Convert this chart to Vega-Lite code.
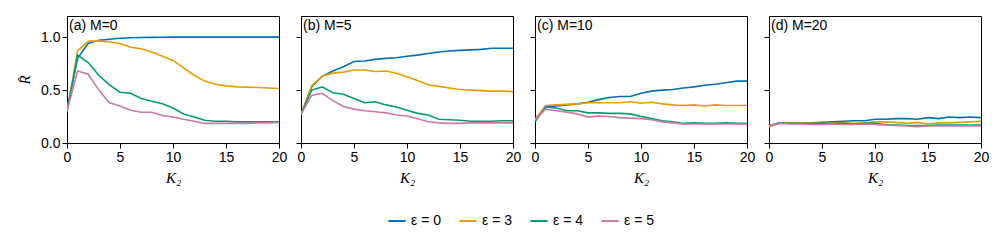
{
  "$schema": "https://vega.github.io/schema/vega-lite/v6.json",
  "padding": {"left": 17, "top": 15, "right": 15, "bottom": 5},
  "background": "white",
  "spacing": 22,
  "bounds": "flush",
  "datasets": {
    "curves": [
      {"panel":"a","K2":0,"ε = 0":0.31,"ε = 3":0.3,"ε = 4":0.3,"ε = 5":0.3},
      {"panel":"a","K2":1,"ε = 0":0.8,"ε = 3":0.87,"ε = 4":0.83,"ε = 5":0.68},
      {"panel":"a","K2":2,"ε = 0":0.94,"ε = 3":0.96,"ε = 4":0.76,"ε = 5":0.65},
      {"panel":"a","K2":3,"ε = 0":0.97,"ε = 3":0.965,"ε = 4":0.64,"ε = 5":0.5},
      {"panel":"a","K2":4,"ε = 0":0.98,"ε = 3":0.955,"ε = 4":0.55,"ε = 5":0.38},
      {"panel":"a","K2":5,"ε = 0":0.99,"ε = 3":0.94,"ε = 4":0.48,"ε = 5":0.35},
      {"panel":"a","K2":6,"ε = 0":0.995,"ε = 3":0.905,"ε = 4":0.47,"ε = 5":0.31},
      {"panel":"a","K2":7,"ε = 0":0.997,"ε = 3":0.89,"ε = 4":0.42,"ε = 5":0.29},
      {"panel":"a","K2":8,"ε = 0":0.998,"ε = 3":0.86,"ε = 4":0.395,"ε = 5":0.29},
      {"panel":"a","K2":9,"ε = 0":0.999,"ε = 3":0.82,"ε = 4":0.37,"ε = 5":0.26},
      {"panel":"a","K2":10,"ε = 0":1,"ε = 3":0.78,"ε = 4":0.33,"ε = 5":0.245},
      {"panel":"a","K2":11,"ε = 0":1,"ε = 3":0.71,"ε = 4":0.275,"ε = 5":0.225},
      {"panel":"a","K2":12,"ε = 0":1,"ε = 3":0.64,"ε = 4":0.245,"ε = 5":0.205},
      {"panel":"a","K2":13,"ε = 0":1,"ε = 3":0.585,"ε = 4":0.215,"ε = 5":0.185},
      {"panel":"a","K2":14,"ε = 0":1,"ε = 3":0.555,"ε = 4":0.205,"ε = 5":0.185},
      {"panel":"a","K2":15,"ε = 0":1,"ε = 3":0.54,"ε = 4":0.205,"ε = 5":0.185},
      {"panel":"a","K2":16,"ε = 0":1,"ε = 3":0.53,"ε = 4":0.2,"ε = 5":0.185},
      {"panel":"a","K2":17,"ε = 0":1,"ε = 3":0.528,"ε = 4":0.2,"ε = 5":0.185},
      {"panel":"a","K2":18,"ε = 0":1,"ε = 3":0.525,"ε = 4":0.2,"ε = 5":0.19},
      {"panel":"a","K2":19,"ε = 0":1,"ε = 3":0.52,"ε = 4":0.2,"ε = 5":0.19},
      {"panel":"a","K2":20,"ε = 0":1,"ε = 3":0.515,"ε = 4":0.2,"ε = 5":0.195},

      {"panel":"b","K2":0,"ε = 0":0.27,"ε = 3":0.27,"ε = 4":0.27,"ε = 5":0.27},
      {"panel":"b","K2":1,"ε = 0":0.53,"ε = 3":0.54,"ε = 4":0.5,"ε = 5":0.45},
      {"panel":"b","K2":2,"ε = 0":0.63,"ε = 3":0.63,"ε = 4":0.53,"ε = 5":0.47},
      {"panel":"b","K2":3,"ε = 0":0.68,"ε = 3":0.66,"ε = 4":0.475,"ε = 5":0.4},
      {"panel":"b","K2":4,"ε = 0":0.72,"ε = 3":0.67,"ε = 4":0.46,"ε = 5":0.345},
      {"panel":"b","K2":5,"ε = 0":0.77,"ε = 3":0.69,"ε = 4":0.42,"ε = 5":0.32},
      {"panel":"b","K2":6,"ε = 0":0.775,"ε = 3":0.69,"ε = 4":0.38,"ε = 5":0.305},
      {"panel":"b","K2":7,"ε = 0":0.79,"ε = 3":0.675,"ε = 4":0.39,"ε = 5":0.295},
      {"panel":"b","K2":8,"ε = 0":0.8,"ε = 3":0.68,"ε = 4":0.36,"ε = 5":0.285},
      {"panel":"b","K2":9,"ε = 0":0.805,"ε = 3":0.66,"ε = 4":0.34,"ε = 5":0.265},
      {"panel":"b","K2":10,"ε = 0":0.82,"ε = 3":0.625,"ε = 4":0.31,"ε = 5":0.255},
      {"panel":"b","K2":11,"ε = 0":0.83,"ε = 3":0.59,"ε = 4":0.28,"ε = 5":0.23},
      {"panel":"b","K2":12,"ε = 0":0.845,"ε = 3":0.55,"ε = 4":0.265,"ε = 5":0.2},
      {"panel":"b","K2":13,"ε = 0":0.86,"ε = 3":0.535,"ε = 4":0.225,"ε = 5":0.19},
      {"panel":"b","K2":14,"ε = 0":0.87,"ε = 3":0.52,"ε = 4":0.22,"ε = 5":0.185},
      {"panel":"b","K2":15,"ε = 0":0.875,"ε = 3":0.505,"ε = 4":0.215,"ε = 5":0.185},
      {"panel":"b","K2":16,"ε = 0":0.88,"ε = 3":0.5,"ε = 4":0.205,"ε = 5":0.19},
      {"panel":"b","K2":17,"ε = 0":0.885,"ε = 3":0.495,"ε = 4":0.205,"ε = 5":0.19},
      {"panel":"b","K2":18,"ε = 0":0.895,"ε = 3":0.49,"ε = 4":0.205,"ε = 5":0.19},
      {"panel":"b","K2":19,"ε = 0":0.895,"ε = 3":0.49,"ε = 4":0.21,"ε = 5":0.19},
      {"panel":"b","K2":20,"ε = 0":0.895,"ε = 3":0.485,"ε = 4":0.21,"ε = 5":0.19},

      {"panel":"c","K2":0,"ε = 0":0.22,"ε = 3":0.22,"ε = 4":0.2,"ε = 5":0.22},
      {"panel":"c","K2":1,"ε = 0":0.34,"ε = 3":0.355,"ε = 4":0.34,"ε = 5":0.32},
      {"panel":"c","K2":2,"ε = 0":0.35,"ε = 3":0.36,"ε = 4":0.33,"ε = 5":0.305},
      {"panel":"c","K2":3,"ε = 0":0.36,"ε = 3":0.365,"ε = 4":0.305,"ε = 5":0.29},
      {"panel":"c","K2":4,"ε = 0":0.37,"ε = 3":0.37,"ε = 4":0.305,"ε = 5":0.275},
      {"panel":"c","K2":5,"ε = 0":0.385,"ε = 3":0.38,"ε = 4":0.285,"ε = 5":0.245},
      {"panel":"c","K2":6,"ε = 0":0.41,"ε = 3":0.38,"ε = 4":0.285,"ε = 5":0.255},
      {"panel":"c","K2":7,"ε = 0":0.43,"ε = 3":0.38,"ε = 4":0.28,"ε = 5":0.25},
      {"panel":"c","K2":8,"ε = 0":0.44,"ε = 3":0.38,"ε = 4":0.28,"ε = 5":0.24},
      {"panel":"c","K2":9,"ε = 0":0.44,"ε = 3":0.39,"ε = 4":0.275,"ε = 5":0.235},
      {"panel":"c","K2":10,"ε = 0":0.47,"ε = 3":0.375,"ε = 4":0.25,"ε = 5":0.23},
      {"panel":"c","K2":11,"ε = 0":0.49,"ε = 3":0.385,"ε = 4":0.23,"ε = 5":0.22},
      {"panel":"c","K2":12,"ε = 0":0.5,"ε = 3":0.37,"ε = 4":0.21,"ε = 5":0.2},
      {"panel":"c","K2":13,"ε = 0":0.505,"ε = 3":0.36,"ε = 4":0.2,"ε = 5":0.19},
      {"panel":"c","K2":14,"ε = 0":0.52,"ε = 3":0.355,"ε = 4":0.185,"ε = 5":0.18},
      {"panel":"c","K2":15,"ε = 0":0.53,"ε = 3":0.36,"ε = 4":0.19,"ε = 5":0.18},
      {"panel":"c","K2":16,"ε = 0":0.545,"ε = 3":0.35,"ε = 4":0.185,"ε = 5":0.18},
      {"panel":"c","K2":17,"ε = 0":0.555,"ε = 3":0.36,"ε = 4":0.185,"ε = 5":0.18},
      {"panel":"c","K2":18,"ε = 0":0.57,"ε = 3":0.355,"ε = 4":0.19,"ε = 5":0.18},
      {"panel":"c","K2":19,"ε = 0":0.585,"ε = 3":0.355,"ε = 4":0.185,"ε = 5":0.18},
      {"panel":"c","K2":20,"ε = 0":0.585,"ε = 3":0.355,"ε = 4":0.185,"ε = 5":0.18},

      {"panel":"d","K2":0,"ε = 0":0.16,"ε = 3":0.15,"ε = 4":0.165,"ε = 5":0.165},
      {"panel":"d","K2":1,"ε = 0":0.19,"ε = 3":0.19,"ε = 4":0.19,"ε = 5":0.185},
      {"panel":"d","K2":2,"ε = 0":0.19,"ε = 3":0.19,"ε = 4":0.185,"ε = 5":0.18},
      {"panel":"d","K2":3,"ε = 0":0.19,"ε = 3":0.19,"ε = 4":0.185,"ε = 5":0.18},
      {"panel":"d","K2":4,"ε = 0":0.19,"ε = 3":0.19,"ε = 4":0.185,"ε = 5":0.175},
      {"panel":"d","K2":5,"ε = 0":0.195,"ε = 3":0.185,"ε = 4":0.185,"ε = 5":0.175},
      {"panel":"d","K2":6,"ε = 0":0.2,"ε = 3":0.19,"ε = 4":0.185,"ε = 5":0.18},
      {"panel":"d","K2":7,"ε = 0":0.205,"ε = 3":0.19,"ε = 4":0.185,"ε = 5":0.175},
      {"panel":"d","K2":8,"ε = 0":0.21,"ε = 3":0.185,"ε = 4":0.18,"ε = 5":0.175},
      {"panel":"d","K2":9,"ε = 0":0.21,"ε = 3":0.19,"ε = 4":0.185,"ε = 5":0.18},
      {"panel":"d","K2":10,"ε = 0":0.225,"ε = 3":0.2,"ε = 4":0.185,"ε = 5":0.175},
      {"panel":"d","K2":11,"ε = 0":0.225,"ε = 3":0.2,"ε = 4":0.175,"ε = 5":0.17},
      {"panel":"d","K2":12,"ε = 0":0.23,"ε = 3":0.195,"ε = 4":0.17,"ε = 5":0.165},
      {"panel":"d","K2":13,"ε = 0":0.23,"ε = 3":0.185,"ε = 4":0.165,"ε = 5":0.16},
      {"panel":"d","K2":14,"ε = 0":0.225,"ε = 3":0.195,"ε = 4":0.165,"ε = 5":0.155},
      {"panel":"d","K2":15,"ε = 0":0.24,"ε = 3":0.18,"ε = 4":0.165,"ε = 5":0.16},
      {"panel":"d","K2":16,"ε = 0":0.23,"ε = 3":0.19,"ε = 4":0.17,"ε = 5":0.16},
      {"panel":"d","K2":17,"ε = 0":0.245,"ε = 3":0.19,"ε = 4":0.17,"ε = 5":0.16},
      {"panel":"d","K2":18,"ε = 0":0.24,"ε = 3":0.195,"ε = 4":0.17,"ε = 5":0.16},
      {"panel":"d","K2":19,"ε = 0":0.245,"ε = 3":0.2,"ε = 4":0.17,"ε = 5":0.16},
      {"panel":"d","K2":20,"ε = 0":0.24,"ε = 3":0.205,"ε = 4":0.17,"ε = 5":0.16}
    ]
  },
  "config": {
    "font": "Liberation Sans",
    "view": {"stroke": "black", "strokeWidth": 1},
    "axis": {
      "grid": false,
      "domainColor": "black",
      "tickColor": "black",
      "tickSize": 5,
      "labelFontSize": 14,
      "labelColor": "black",
      "labelFont": "Liberation Sans",
      "titleColor": "black",
      "titleFont": "Liberation Serif",
      "titleFontStyle": "italic",
      "titleFontWeight": "normal",
      "titleFontSize": 15
    },
    "axisX": {"titlePadding": 6},
    "legend": {
      "labelFontSize": 14,
      "labelColor": "black",
      "labelFont": "Liberation Sans"
    }
  },
  "hconcat": [
    {
      "width": 212, "height": 127,
      "layer": [
        {
          "data": {"name": "curves"},
          "transform": [{"filter": "datum.panel === 'a'"}, {"fold": ["ε = 0", "ε = 3", "ε = 4", "ε = 5"], "as": ["eps", "R"]}],
          "mark": {"type": "line", "strokeWidth": 1.6, "clip": true},
          "encoding": {
            "x": {"field": "K2", "type": "quantitative", "scale": {"domain": [0, 20], "nice": false}, "axis": {"values": [0, 5, 10, 15, 20], "title": "K₂", "labelFlush": false}},
            "y": {"field": "R", "type": "quantitative", "scale": {"domain": [0, 1.2], "nice": false}, "axis": {"values": [0, 0.5, 1], "format": ".1f", "title": "R̂", "titlePadding": 8}},
            "color": {"field": "eps", "type": "nominal", "scale": {"domain": ["ε = 0", "ε = 3", "ε = 4", "ε = 5"], "range": ["#0072B2", "#E69F00", "#009E73", "#CC79A7"]}, "legend": {"orient": "none", "legendX": 320, "legendY": 195, "direction": "horizontal", "title": null, "symbolType": "stroke", "symbolStrokeWidth": 2, "symbolSize": 300, "columnPadding": 14}}
          }
        },
        {
          "data": {"values": [{"label": "(a) M=0"}]},
          "mark": {"type": "text", "align": "left", "baseline": "top", "dx": 2, "dy": 3, "fontSize": 14, "color": "black"},
          "encoding": {"x": {"datum": 0}, "y": {"datum": 1.2}, "text": {"field": "label"}}
        }
      ]
    },
    {
      "width": 212, "height": 127,
      "layer": [
        {
          "data": {"name": "curves"},
          "transform": [{"filter": "datum.panel === 'b'"}, {"fold": ["ε = 0", "ε = 3", "ε = 4", "ε = 5"], "as": ["eps", "R"]}],
          "mark": {"type": "line", "strokeWidth": 1.6, "clip": true},
          "encoding": {
            "x": {"field": "K2", "type": "quantitative", "scale": {"domain": [0, 20], "nice": false}, "axis": {"values": [0, 5, 10, 15, 20], "title": "K₂", "labelFlush": false}},
            "y": {"field": "R", "type": "quantitative", "scale": {"domain": [0, 1.2], "nice": false}, "axis": {"values": [0, 0.5, 1], "labels": false, "title": null}},
            "color": {"field": "eps", "type": "nominal", "scale": {"domain": ["ε = 0", "ε = 3", "ε = 4", "ε = 5"], "range": ["#0072B2", "#E69F00", "#009E73", "#CC79A7"]}, "legend": null}
          }
        },
        {
          "data": {"values": [{"label": "(b) M=5"}]},
          "mark": {"type": "text", "align": "left", "baseline": "top", "dx": 2, "dy": 3, "fontSize": 14, "color": "black"},
          "encoding": {"x": {"datum": 0}, "y": {"datum": 1.2}, "text": {"field": "label"}}
        }
      ]
    },
    {
      "width": 212, "height": 127,
      "layer": [
        {
          "data": {"name": "curves"},
          "transform": [{"filter": "datum.panel === 'c'"}, {"fold": ["ε = 0", "ε = 3", "ε = 4", "ε = 5"], "as": ["eps", "R"]}],
          "mark": {"type": "line", "strokeWidth": 1.6, "clip": true},
          "encoding": {
            "x": {"field": "K2", "type": "quantitative", "scale": {"domain": [0, 20], "nice": false}, "axis": {"values": [0, 5, 10, 15, 20], "title": "K₂", "labelFlush": false}},
            "y": {"field": "R", "type": "quantitative", "scale": {"domain": [0, 1.2], "nice": false}, "axis": {"values": [0, 0.5, 1], "labels": false, "title": null}},
            "color": {"field": "eps", "type": "nominal", "scale": {"domain": ["ε = 0", "ε = 3", "ε = 4", "ε = 5"], "range": ["#0072B2", "#E69F00", "#009E73", "#CC79A7"]}, "legend": null}
          }
        },
        {
          "data": {"values": [{"label": "(c) M=10"}]},
          "mark": {"type": "text", "align": "left", "baseline": "top", "dx": 2, "dy": 3, "fontSize": 14, "color": "black"},
          "encoding": {"x": {"datum": 0}, "y": {"datum": 1.2}, "text": {"field": "label"}}
        }
      ]
    },
    {
      "width": 212, "height": 127,
      "layer": [
        {
          "data": {"name": "curves"},
          "transform": [{"filter": "datum.panel === 'd'"}, {"fold": ["ε = 0", "ε = 3", "ε = 4", "ε = 5"], "as": ["eps", "R"]}],
          "mark": {"type": "line", "strokeWidth": 1.6, "clip": true},
          "encoding": {
            "x": {"field": "K2", "type": "quantitative", "scale": {"domain": [0, 20], "nice": false}, "axis": {"values": [0, 5, 10, 15, 20], "title": "K₂", "labelFlush": false}},
            "y": {"field": "R", "type": "quantitative", "scale": {"domain": [0, 1.2], "nice": false}, "axis": {"values": [0, 0.5, 1], "labels": false, "title": null}},
            "color": {"field": "eps", "type": "nominal", "scale": {"domain": ["ε = 0", "ε = 3", "ε = 4", "ε = 5"], "range": ["#0072B2", "#E69F00", "#009E73", "#CC79A7"]}, "legend": null}
          }
        },
        {
          "data": {"values": [{"label": "(d) M=20"}]},
          "mark": {"type": "text", "align": "left", "baseline": "top", "dx": 2, "dy": 3, "fontSize": 14, "color": "black"},
          "encoding": {"x": {"datum": 0}, "y": {"datum": 1.2}, "text": {"field": "label"}}
        }
      ]
    }
  ]
}
